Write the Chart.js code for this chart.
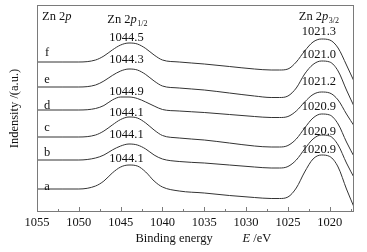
<!DOCTYPE html>
<html>
<head>
<meta charset="utf-8">
<script src="https://cdn.jsdelivr.net/npm/chart.js@4/dist/chart.umd.min.js"></script>
<style>
  html, body { margin: 0; padding: 0; background: #fff; }
</style>
</head>
<body>
<canvas id="chart" width="367" height="252"></canvas>
<script>
// binding energy (eV) of the sampled points
const energies = [1055, 1052, 1050, 1048, 1047, 1046, 1045, 1044, 1043, 1042, 1041, 1040, 1038, 1035, 1032, 1029, 1027, 1026, 1025, 1024, 1023, 1022, 1021, 1020, 1019, 1018, 1017]

// intensity (a.u., stacked)
const curveA = [23, 23, 23, 26, 31, 39, 45, 47, 46, 40, 31, 25, 21, 19, 16.5, 14.5, 13.5, 13.5, 15, 24, 40, 53, 57, 55.5, 45, 23, 3]
const curveB = [52, 52, 52, 54, 57, 62, 66, 68, 67, 63, 57, 53, 50.5, 49, 47, 45, 44, 44, 45.5, 52, 63, 73, 77, 76, 67, 49, 33]
const curveC = [75, 75, 75, 77, 81, 87, 92.5, 95, 94, 89, 82, 76.5, 74, 72, 69, 66, 65, 65, 66.5, 73, 84, 94, 98, 97, 88, 70, 54]
const curveD = [102, 102, 102, 103.5, 106.5, 112, 115, 115, 113.5, 110, 106, 102.5, 101, 99.5, 97.5, 95.5, 94.5, 94.5, 95.5, 101, 110, 117.5, 120, 119, 112, 98, 85]
const curveE = [125, 125, 125, 127, 131, 136.5, 141, 143, 142, 137.5, 131, 126, 124, 122, 119, 116, 114.5, 114.5, 116, 124, 138, 147.5, 151, 150, 141, 122, 104]
const curveF = [150, 150, 150, 152, 156, 162, 167, 169, 168, 163.5, 157, 152, 150, 148, 145.5, 143, 142, 142, 143, 150, 161, 170, 173, 172, 164, 147, 129]

const sampleNames = ['a', 'b', 'c', 'd', 'e', 'f']
const peak12 = ['1044.1', '1044.1', '1044.1', '1044.9', '1044.3', '1044.5']
const peak32 = ['1020.9', '1020.9', '1020.9', '1021.2', '1021.0', '1021.3']
const xTicks = [1055, 1050, 1045, 1040, 1035, 1030, 1025, 1020]

// label layout (data units)
const nameY = [25, 59, 84, 106, 132, 159]
const peak12Y = [53, 77, 99, 120, 152, 174]
const peak32Y = [62, 80, 105, 130, 157, 180]

const serif = '"Liberation Serif", "Times New Roman", serif'
const lineColor = '#333'

let series = [curveA, curveB, curveC, curveD, curveE, curveF]
let datasets = []
$each(series, function (i, values) {
  datasets.push({
    label: sampleNames[i],
    data: energies.map(function (e, k) { return { x: e, y: values[k] } }),
    borderColor: lineColor,
    borderWidth: 1,
    pointRadius: 0,
    fill: false,
    cubicInterpolationMode: 'monotone'
  })
})

function $each (arr, fn) {
  for (let i = 0; i < arr.length; i++) fn(i, arr[i])
}

function drawRich (ctx, parts, x, y, align) {
  let total = 0
  parts.forEach(function (p) {
    ctx.font = p.font
    total += ctx.measureText(p.text).width + (p.gap || 0)
  })
  let cx = align === 'center' ? x - total / 2 : x
  ctx.textAlign = 'left'
  parts.forEach(function (p) {
    ctx.font = p.font
    ctx.fillText(p.text, cx, y + (p.dy || 0))
    cx += ctx.measureText(p.text).width + (p.gap || 0)
  })
}

const annotations = {
  id: 'annotations',
  afterDraw (chart) {
    const ctx = chart.ctx
    const xs = chart.scales.x
    const ys = chart.scales.y
    const area = chart.chartArea
    const normal = '12.5px ' + serif
    const italic = 'italic 12.5px ' + serif
    const small = '8px ' + serif
    ctx.save()

    // frame
    ctx.strokeStyle = '#7a7a7a'
    ctx.lineWidth = 1
    ctx.strokeRect(area.left + 0.5, area.top + 0.5, area.right - area.left - 1, area.bottom - area.top - 1)

    // inward ticks on the energy axis
    ctx.beginPath()
    for (let v = xTicks[0]; v > xs.min; v -= 2.5) {
      const px = Math.round(xs.getPixelForValue(v)) + 0.5
      const len = v % 5 === 0 ? 5 : 3
      ctx.moveTo(px, area.bottom)
      ctx.lineTo(px, area.bottom - len)
    }
    ctx.stroke()

    ctx.fillStyle = '#111'
    ctx.textBaseline = 'middle'

    // sample names and peak positions
    $each(sampleNames, function (i, name) {
      ctx.font = normal
      ctx.textAlign = 'center'
      ctx.fillText(name, xs.getPixelForValue(1053.8), ys.getPixelForValue(nameY[i]))
      ctx.fillText(peak12[i], xs.getPixelForValue(1044.3), ys.getPixelForValue(peak12Y[i]))
      ctx.fillText(peak32[i], xs.getPixelForValue(1021.3), ys.getPixelForValue(peak32Y[i]))
    })

    // headers
    drawRich(ctx, [{ text: 'Zn 2', font: normal }, { text: 'p', font: italic }],
      xs.getPixelForValue(1054.4), ys.getPixelForValue(195), 'left')
    drawRich(ctx, [{ text: 'Zn 2', font: normal }, { text: 'p', font: italic, gap: 0.5 }, { text: '1/2', font: small, dy: 4 }],
      xs.getPixelForValue(1046.6), ys.getPixelForValue(192), 'left')
    drawRich(ctx, [{ text: 'Zn 2', font: normal }, { text: 'p', font: italic, gap: 0.5 }, { text: '3/2', font: small, dy: 4 }],
      xs.getPixelForValue(1023.7), ys.getPixelForValue(195), 'left')

    // x axis title
    const mid = (area.left + area.right) / 2
    const ty = area.bottom + 27
    ctx.font = normal
    ctx.textAlign = 'left'
    ctx.fillText('Binding energy', mid - 60, ty)
    drawRich(ctx, [{ text: 'E', font: italic }, { text: ' /eV', font: normal }], mid + 47, ty, 'left')

    ctx.restore()
  }
}

const ctx = document.getElementById('chart').getContext('2d')
const myChart = new Chart(ctx, {
  type: 'line',
  data: { datasets: datasets },
  options: {
    responsive: false,
    animation: false,
    devicePixelRatio: 1,
    layout: { padding: { top: 5, right: 13, left: 0, bottom: 0 } },
    plugins: { legend: { display: false }, tooltip: { enabled: false } },
    scales: {
      x: {
        type: 'linear',
        reverse: true,
        min: 1017.1,
        max: 1055,
        afterFit: function (s) { s.height = 40 },
        afterBuildTicks: function (s) { s.ticks = xTicks.map(function (v) { return { value: v } }) },
        ticks: {
          color: '#111',
          font: { family: serif, size: 12.5 },
          padding: 3,
          maxRotation: 0,
          autoSkip: false,
          callback: function (v) { return String(v) }
        },
        grid: { display: false, drawTicks: false },
        border: { display: false }
      },
      y: {
        min: 0,
        max: 207,
        afterFit: function (s) { s.width = 37 },
        ticks: { display: false },
        grid: { display: false, drawTicks: false },
        border: { display: false },
        title: {
          display: true,
          text: 'Indensity /(a.u.)',
          color: '#111',
          font: { family: serif, size: 12.5 },
          padding: { top: 7, bottom: 0 }
        }
      }
    }
  },
  plugins: [annotations]
})
</script>
</body>
</html>
